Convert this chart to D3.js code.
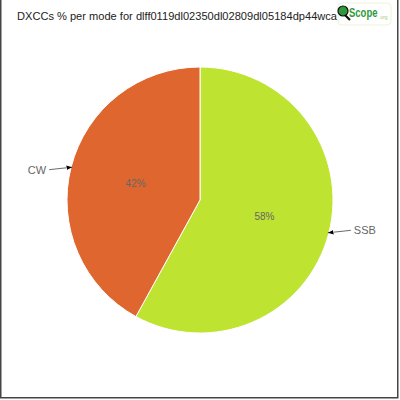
<!DOCTYPE html>
<html>
<head>
<meta charset="utf-8">
<script src="https://cdn.jsdelivr.net/npm/d3@7"></script>
<style>
body{margin:0;background:#fff;}
text{font-family:"Liberation Sans",sans-serif;}
</style>
</head>
<body>
<div id="chart"></div>
<script>
/*DXCC per mode pie*/

var modes = ["SSB", "CW"];
var shares = [58, 42];
var sliceColors = ["#bee331", "#e06630"];
var titleText = "DXCCs % per mode for dlff0119dl02350dl02809dl05184dp44wca";

var W = 400, H = 400,
cx = 200, cy = 200, radius = 133;

var svg = d3.select("#chart")
.append("svg")
.attr("width", W)
.attr("height", H);

svg.append("rect")
.attr("width", W).attr("height", H).attr("fill", "#fff");

// frame (left, right, bottom)
svg.append("path")
.attr("d", "M0.75,0V397.75H397.75V0")
.attr("fill", "none")
.attr("stroke", "#444")
.attr("stroke-width", 1.5);

svg.append("text")
.attr("x", 17).attr("y", 20)
.attr("font-size", 11)
.attr("fill", "#222")
.attr("textLength", 320)
.attr("lengthAdjust", "spacingAndGlyphs")
.text(titleText);

var data = modes.map(function(m, i){ return {mode: m, val: shares[i], color: sliceColors[i]}; });

var pie = d3.pie().sort(null).value(function(d){ return d.val; });
var arc = d3.arc().innerRadius(0).outerRadius(radius);
var mid = d3.arc().innerRadius(radius / 2).outerRadius(radius / 2);

var g = svg.append("g").attr("transform", `translate(${cx},${cy})`);

var arcs = pie(data);

g.selectAll("path.slice")
.data(arcs).enter()
.append("path")
.attr("class", "slice")
.attr("d", arc)
.attr("fill", function(d){ return d.data.color; })
.attr("stroke", "#fff")
.attr("stroke-width", 1);

g.selectAll("text.pct")
.data(arcs).enter()
.append("text")
.attr("class", "pct")
.attr("x", function(d){ return mid.centroid(d)[0]; })
.attr("y", function(d){ return mid.centroid(d)[1]; })
.attr("dy", "0.35em")
.attr("text-anchor", "middle")
.attr("font-size", 10)
.attr("fill", "#666")
.text(function(d){ return d.data.val + "%"; });

svg.append("defs").append("marker")
.attr("id", "arr")
.attr("viewBox", "0 -5 10 10")
.attr("refX", 10).attr("refY", 0)
.attr("markerWidth", 7).attr("markerHeight", 7)
.attr("orient", "auto")
.append("path").attr("d", "M0,-4L10,0L0,4Z").attr("fill", "#000");

function edge(d, extra){
  var a = (d.startAngle + d.endAngle) / 2;
  return [Math.sin(a) * (radius + extra), -Math.cos(a) * (radius + extra)];
}

arcs.forEach(function(d){
  var tip = edge(d, -1);
  var side = tip[0] > 0 ? 1 : -1;
  var start = [tip[0] + side * 23, tip[1] - side * 2.5];
  g.append("line")
  .attr("x1", start[0]).attr("y1", start[1])
  .attr("x2", tip[0]).attr("y2", tip[1])
  .attr("stroke", "#444").attr("stroke-width", 0.8)
  .attr("marker-end", "url(#arr)");
  g.append("text")
  .attr("x", start[0] + side * 3)
  .attr("y", start[1])
  .attr("dy", "0.35em")
  .attr("text-anchor", side > 0 ? "start" : "end")
  .attr("font-size", 11)
  .attr("fill", "#666")
  .text(d.data.mode);
});

// logo
var logo = svg.append("g").attr("transform", "translate(338,3)");
logo.append("rect")
.attr("width", 53).attr("height", 22).attr("rx", 4)
.attr("fill", "#fff").attr("stroke", "#eef3d6");
logo.append("line")
.attr("x1", 7).attr("y1", 12).attr("x2", 12).attr("y2", 17)
.attr("stroke", "#111").attr("stroke-width", 2.2);
logo.append("circle")
.attr("cx", 5).attr("cy", 8).attr("r", 5)
.attr("fill", "#2e9a3c").attr("stroke", "#111").attr("stroke-width", 1.2);
logo.append("text")
.attr("transform", "translate(11,14) scale(1,1.3)")
.attr("font-size", 9.5).attr("font-weight", "bold")
.attr("fill", "#2e9a3c")
.text("Scope");
logo.append("text")
.attr("x", 41).attr("y", 16)
.attr("font-size", 5)
.attr("fill", "#a8d080")
.text(".org");
</script>
</body>
</html>
